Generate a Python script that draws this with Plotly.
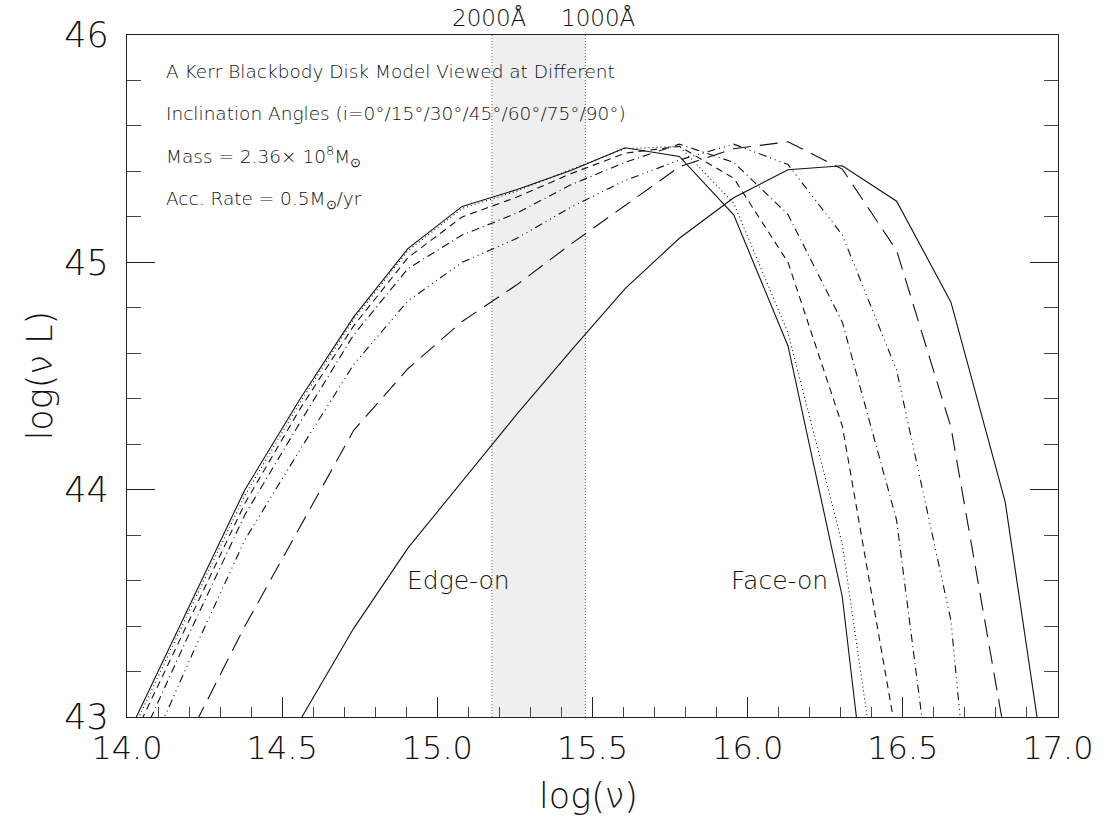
import plotly.graph_objects as go

# Frequency grid, log10(nu) in Hz
log_nu = [14.03, 14.205, 14.38, 14.555, 14.73, 14.905, 15.08, 15.255, 15.43,
          15.605, 15.78, 15.955, 16.13, 16.305, 16.48, 16.655, 16.83, 17.005]

# log10(nu L_nu) for each inclination angle
lum_i00 = [43.00, 43.50, 44.00, 44.393, 44.759, 45.060, 45.246, 45.319, 45.404,
           45.504, 45.466, 45.209, 44.632, 43.528, 41.49, None, None, None]
lum_i15 = [42.976, 43.48, 43.975, 44.378, 44.748, 45.051, 45.237, 45.313, 45.408,
           45.50, 45.51, 45.26, 44.69, 43.76, 42.10, None, None, None]
lum_i30 = [42.938, 43.44, 43.94, 44.35, 44.72, 45.02, 45.20, 45.286, 45.39,
           45.48, 45.51, 45.37, 45.00, 44.28, 42.91, None, None, None]
lum_i45 = [42.855, 43.38, 43.89, 44.29, 44.68, 44.972, 45.12, 45.216, 45.341,
           45.44, 45.52, 45.44, 45.21, 44.737, 43.865, 42.0, None, None]
lum_i60 = [42.718, 43.26, 43.78, 44.17, 44.55, 44.83, 45.00, 45.105, 45.242,
           45.36, 45.45, 45.52, 45.43, 45.12, 44.525, 43.425, 40.9, None]
lum_i75 = [42.44, 42.93, 43.40, 43.83, 44.26, 44.532, 44.74, 44.90, 45.08,
           45.25, 45.42, 45.50, 45.53, 45.41, 45.052, 44.275, 42.91, None]
lum_i90 = [None, None, None, 42.98, 43.389, 43.743, 44.037, 44.33, 44.611,
           44.884, 45.106, 45.284, 45.407, 45.425, 45.269, 44.825, 43.945, 42.33]

curves = [
    ("i=0°", lum_i00, "solid"),
    ("i=15°", lum_i15, "1px,3px"),
    ("i=30°", lum_i30, "7px,5px"),
    ("i=45°", lum_i45, "8px,4px,1px,4px"),
    ("i=60°", lum_i60, "8px,4px,1px,4px,1px,4px,1px,4px"),
    ("i=75°", lum_i75, "18px,9px"),
    ("i=90°", lum_i90, "solid"),
]

# UV window between 2000 and 1000 Angstrom
band_lo = 15.176
band_hi = 15.477

x_ticks = [14.0, 14.5, 15.0, 15.5, 16.0, 16.5, 17.0]
y_ticks = [43, 44, 45, 46]

INK = "#111111"
THIN = 200

fig = go.Figure()
for name, ys, dash in curves:
    fig.add_trace(go.Scatter(
        x=log_nu, y=ys, mode="lines", name=name,
        line=dict(color="#111111", width=1.1, dash=dash),
        showlegend=False,
    ))

fig.add_shape(type="rect", xref="x", yref="paper", x0=band_lo, x1=band_hi,
              y0=0, y1=1, fillcolor="#efefef", line_width=0, layer="below")
for xv in (band_lo, band_hi):
    fig.add_shape(type="line", xref="x", yref="paper", x0=xv, x1=xv, y0=0, y1=1,
                  line=dict(color="#777777", width=1.2, dash="1px,2px"), layer="below")

txt_font = dict(family="DejaVu Sans", size=18.5, color=INK, weight=THIN)
info_lines = [
    (1 - (71 - 34.5) / 682, "A Kerr Blackbody Disk Model Viewed at Different"),
    (1 - (113 - 34.5) / 682, "Inclination Angles (i=0°/15°/30°/45°/60°/75°/90°)"),
    (1 - (156 - 34.5) / 682, "Mass = 2.36× 10<sup>8</sup>M<sub>⊙</sub>"),
    (1 - (199 - 34.5) / 682, "Acc. Rate = 0.5M<sub>⊙</sub>/yr"),
]
for yp, t in info_lines:
    fig.add_annotation(xref="paper", yref="paper", x=(164 - 127) / 935, y=yp,
                       text=t, showarrow=False, xanchor="left", yanchor="middle",
                       font=txt_font)

lab_font = dict(family="DejaVu Sans", size=25, color=INK, weight=THIN)
fig.add_annotation(x=15.069, y=43.60, text="Edge-on", showarrow=False, font=lab_font)
fig.add_annotation(x=16.104, y=43.60, text="Face-on", showarrow=False, font=lab_font)

top_font = dict(family="DejaVu Sans", size=23, color=INK, weight=THIN)
fig.add_annotation(x=15.165, xref="x", yref="paper", y=1 + (34.5 - 17) / 682,
                   text="2000Å", showarrow=False, font=top_font, yanchor="middle")
fig.add_annotation(x=15.518, xref="x", yref="paper", y=1 + (34.5 - 17) / 682,
                   text="1000Å", showarrow=False, font=top_font, yanchor="middle")

title_font = dict(family="DejaVu Sans", size=35, color=INK, weight=THIN)
fig.add_annotation(xref="paper", yref="paper", x=(590 - 127) / 935, y=(717 - 796) / 682,
                   text="log(ν)", showarrow=False, font=title_font, yanchor="middle")
fig.add_annotation(xref="paper", yref="paper", x=(40 - 127) / 935, y=(717 - 375) / 682,
                   text="log(ν L)", showarrow=False, font=title_font, textangle=-90,
                   xanchor="center", yanchor="middle")

fig.update_xaxes(
    range=[14, 17], tickvals=x_ticks, ticktext=[f"{v:.1f}" for v in x_ticks],
    ticks="inside", ticklen=20, tickwidth=1, tickcolor="#222222",
    showline=True, linecolor="#222222", linewidth=1.2, mirror=True,
    showgrid=False, zeroline=False, ticklabelstandoff=2,
    tickfont=dict(family="DejaVu Sans", size=32, color=INK, weight=THIN),
    minor=dict(dtick=0.1, ticks="inside", ticklen=10, tickwidth=1, tickcolor="#444444",
               showgrid=False),
)
fig.update_yaxes(
    range=[43, 46], tickvals=y_ticks, ticktext=[str(v) for v in y_ticks],
    ticks="inside", ticklen=28, tickwidth=1, tickcolor="#222222",
    showline=True, linecolor="#222222", linewidth=1.2, mirror="ticks",
    showgrid=False, zeroline=False, ticklabelstandoff=10,
    tickfont=dict(family="DejaVu Sans", size=35, color=INK, weight=THIN),
    minor=dict(dtick=0.2, ticks="inside", ticklen=14, tickwidth=1, tickcolor="#444444",
               showgrid=False),
)

fig.update_layout(
    width=1106, height=824,
    margin=dict(l=127, r=44, t=35, b=107),
    paper_bgcolor="white", plot_bgcolor="white",
)

fig.write_html("out.html")
